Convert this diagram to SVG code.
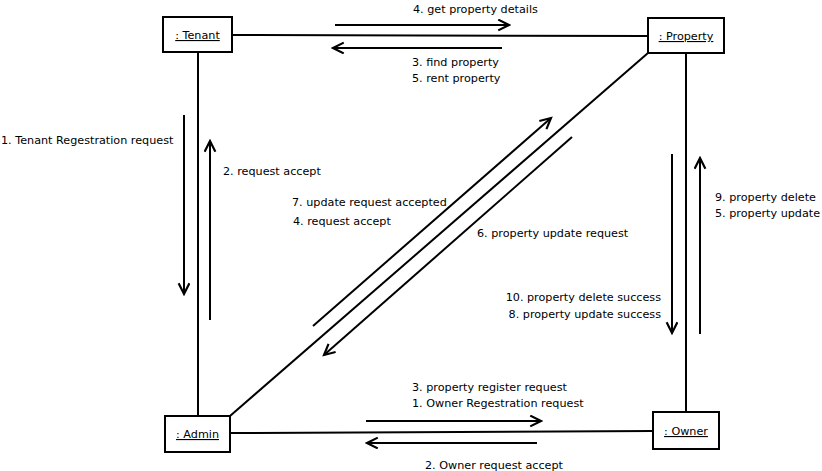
<svg xmlns="http://www.w3.org/2000/svg" width="822" height="471" viewBox="0 0 822 471">
<style>
.box{fill:#fff;stroke:#000;stroke-width:2}
.link{stroke:#000;stroke-width:2;fill:none}
.msg{stroke:#000;stroke-width:2;fill:none;marker-end:url(#arr)}
text{font-family:"DejaVu Sans","Liberation Sans",sans-serif;font-size:11.2px;fill:#000}
.nm{text-anchor:middle;text-decoration:underline}
.r{text-anchor:end}
</style>
<defs>
<marker id="arr" markerUnits="userSpaceOnUse" markerWidth="14" markerHeight="14" viewBox="-1 -1 13 13" refX="10" refY="5" orient="auto">
<path d="M0,0 L10,5 L0,10" fill="none" stroke="#000" stroke-width="2"/>
</marker>
</defs>
<g id="connectors">
<line class="link" x1="232" y1="35" x2="648" y2="36"/>
<line class="link" x1="198" y1="53" x2="198" y2="416"/>
<line class="link" x1="686" y1="53" x2="686" y2="412"/>
<line class="link" x1="230" y1="433" x2="653" y2="431"/>
<line class="link" x1="648" y1="53" x2="230" y2="416"/>
<line class="msg" x1="335" y1="25" x2="509" y2="25"/>
<line class="msg" x1="502" y1="48" x2="333" y2="48"/>
<line class="msg" x1="184" y1="115" x2="184" y2="294"/>
<line class="msg" x1="210" y1="320" x2="210" y2="141"/>
<line class="msg" x1="313" y1="326" x2="551" y2="118"/>
<line class="msg" x1="572" y1="137" x2="324" y2="355"/>
<line class="msg" x1="672" y1="154" x2="672" y2="333"/>
<line class="msg" x1="700" y1="334" x2="700" y2="158"/>
<line class="msg" x1="366" y1="421" x2="541" y2="421"/>
<line class="msg" x1="537" y1="443" x2="367" y2="443"/>
<text x="413" y="12.5">4. get property details</text>
<text x="412" y="65.5">3. find property</text>
<text x="412" y="82">5. rent property</text>
<text x="1" y="144">1. Tenant Regestration request</text>
<text x="223" y="175">2. request accept</text>
<text x="292" y="206">7. update request accepted</text>
<text x="293" y="225">4. request accept</text>
<text x="477" y="237">6. property update request</text>
<text class="r" x="661" y="301">10. property delete success</text>
<text class="r" x="661" y="318">8. property update success</text>
<text x="715" y="201">9. property delete</text>
<text x="715" y="217">5. property update</text>
<text x="412" y="391">3. property register request</text>
<text x="412" y="407">1. Owner Regestration request</text>
<text x="425" y="469">2. Owner request accept</text>
</g>
<g id="tenant">
<rect class="box" x="163" y="17" width="69" height="35"/>
<text class="nm" x="197.5" y="39">: Tenant</text>
</g>
<g id="property">
<rect class="box" x="648" y="18" width="76" height="35"/>
<text class="nm" x="686" y="40">: Property</text>
</g>
<g id="admin">
<rect class="box" x="165" y="416" width="65" height="36"/>
<text class="nm" x="197.5" y="438">: Admin</text>
</g>
<g id="owner">
<rect class="box" x="653" y="412" width="66" height="37"/>
<text class="nm" x="686" y="435">: Owner</text>
</g>
</svg>
